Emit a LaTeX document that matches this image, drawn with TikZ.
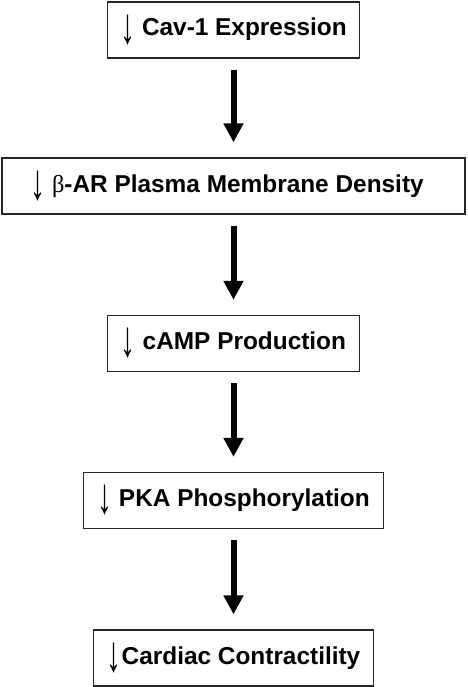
\documentclass[tikz,border=0pt]{standalone}
\usepackage{fontspec}
\setmainfont{Liberation Sans}
\newfontfamily\greekfont{Liberation Serif}
\usetikzlibrary{arrows.meta}
\newcommand{\dn}{\raisebox{-9pt}{\resizebox*{15pt}{30pt}{\mdseries\raisebox{\depth}{↓}}}}

\begin{document}
\begin{tikzpicture}[x=1pt,y=-1pt,
    box/.style={draw=black!85,line width=1.3pt,minimum height=56pt,inner sep=0pt,
      font=\fontsize{24.4}{28}\selectfont\bfseries},
    flow/.style={line width=6pt,-{Triangle[width=19pt,length=19pt]},
      shorten <=11pt,shorten >=15pt}]
  \useasboundingbox (0,0) rectangle (467,687);

  \node[box,minimum width=252pt] (cav) at (233.5,30)
    {\dn\ Cav-1 Expression};
  \node[box,minimum width=463pt] (bar) at (233.5,186)
    {\dn\ {\mdseries\greekfont β}-AR Plasma Membrane Density\hspace*{13pt}};
  \node[box,minimum width=252pt] (camp) at (233.5,343.5)
    {\dn\ cAMP Production};
  \node[box,minimum width=300pt] (pka) at (233.5,500.5)
    {\dn\ PKA Phosphorylation};
  \node[box,minimum width=280pt] (card) at (233.5,658)
    {\dn Cardiac Contractility};

  % downstream effects
  \draw[flow] (cav) -- (bar);
  \draw[flow] (bar) -- (camp);
  \draw[flow] (camp) -- (pka);
  \draw[flow] (pka) -- (card);
\end{tikzpicture}
\end{document}
